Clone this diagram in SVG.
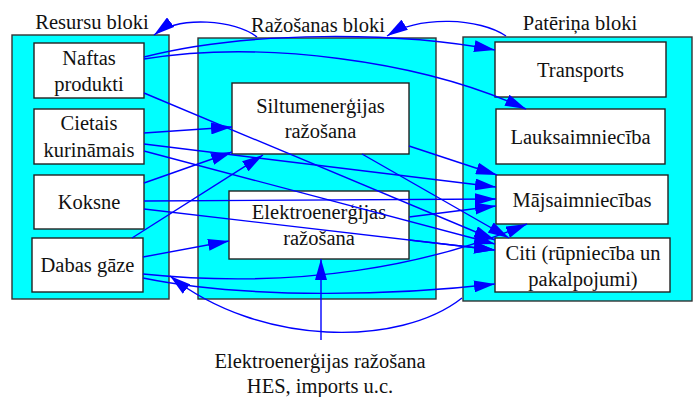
<svg xmlns="http://www.w3.org/2000/svg" width="698" height="397" viewBox="0 0 698 397">
  <style>
    .cluster { fill: #00ffff; stroke: #333333; stroke-width: 1.4; }
    .node { fill: #ffffff; stroke: #222222; stroke-width: 1.4; }
    text { font-family: "Liberation Serif", "Times New Roman", serif; font-size: 20.5px; fill: #111111; text-anchor: middle; }
    .edge { fill: none; stroke: #0000ff; stroke-width: 1.4; marker-end: url(#arrow); }
  </style>
  <defs>
    <marker id="arrow" markerUnits="userSpaceOnUse" markerWidth="21" markerHeight="12" refX="21" refY="6" orient="auto">
      <path d="M0,0 L21,6 L0,12 Z" fill="#0000ff"/>
    </marker>
  </defs>

  <!-- clusters -->
  <g id="cluster_resursi">
    <rect class="cluster" x="12" y="35" width="157" height="264"/>
    <text x="92" y="29">Resursu bloki</text>
  </g>
  <g id="cluster_razosana">
    <rect class="cluster" x="198" y="38" width="238" height="261"/>
    <text x="318" y="32">Ražošanas bloki</text>
  </g>
  <g id="cluster_paterins">
    <rect class="cluster" x="463" y="37" width="229" height="264"/>
    <text x="580" y="30">Patēriņa bloki</text>
  </g>

  <!-- resource nodes -->
  <g id="naftas">
    <rect class="node" x="34" y="43" width="110" height="55"/>
    <text x="89" y="65">Naftas</text>
    <text x="89" y="91">produkti</text>
  </g>
  <g id="cietais">
    <rect class="node" x="34" y="109" width="110" height="55"/>
    <text x="89" y="130">Cietais</text>
    <text x="89" y="157">kurināmais</text>
  </g>
  <g id="koksne">
    <rect class="node" x="34" y="175" width="110" height="54"/>
    <text x="89" y="209">Koksne</text>
  </g>
  <g id="gaze">
    <rect class="node" x="32" y="238" width="111" height="54"/>
    <text x="87.5" y="272">Dabas gāze</text>
  </g>

  <!-- production nodes -->
  <g id="siltums">
    <rect class="node" x="232" y="83" width="177" height="71"/>
    <text x="320.5" y="113">Siltumenerģijas</text>
    <text x="320.5" y="138">ražošana</text>
  </g>
  <g id="elektro">
    <rect class="node" x="229" y="191" width="180" height="68"/>
    <text x="319" y="219">Elektroenerģijas</text>
    <text x="319" y="245">ražošana</text>
  </g>

  <!-- consumer nodes -->
  <g id="transports">
    <rect class="node" x="495" y="42" width="171" height="55"/>
    <text x="580.5" y="77">Transports</text>
  </g>
  <g id="lauksaimnieciba">
    <rect class="node" x="496" y="109" width="169" height="55"/>
    <text x="580.5" y="143.5">Lauksaimniecība</text>
  </g>
  <g id="majsaimniecibas">
    <rect class="node" x="496" y="175" width="172" height="49"/>
    <text x="582" y="206.5">Mājsaimniecības</text>
  </g>
  <g id="citi">
    <rect class="node" x="495" y="238" width="175" height="54"/>
    <text x="583" y="259.5">Citi (rūpniecība un</text>
    <text x="583" y="286">pakalpojumi)</text>
  </g>

  <!-- external source label -->
  <g id="imports">
    <text x="320" y="368">Elektroenerģijas ražošana</text>
    <text x="320" y="393">HES, imports u.c.</text>
  </g>

  <!-- connectors -->
  <g id="edges">
    <!-- cluster feedback -->
    <path class="edge" d="M506,36 C480,18 420,15 387,36"/>
    <path class="edge" d="M257,37 C235,20 180,15 154,35"/>
    <path class="edge" d="M462,298 C400,347 260,347 170,276"/>

    <!-- oil products -->
    <path class="edge" d="M144,57 C250,30 400,32 495,50"/>
    <path class="edge" d="M144,59 C260,40 420,60 526,109"/>
    <path class="edge" d="M144,93 L495,240"/>

    <!-- solid fuel -->
    <path class="edge" d="M144,133 L232,127"/>
    <path class="edge" d="M144,144 L496,187"/>
    <path class="edge" d="M144,151 L495,244"/>

    <!-- wood -->
    <path class="edge" d="M144,183 L232,152"/>
    <path class="edge" d="M144,201 L496,199"/>
    <path class="edge" d="M144,209 L495,250"/>

    <!-- natural gas -->
    <path class="edge" d="M132,238 L263,155"/>
    <path class="edge" d="M143,257 L229,241"/>
    <path class="edge" d="M143,274 C300,290 430,265 527,224"/>
    <path class="edge" d="M143,278 C250,300 400,295 495,284"/>

    <!-- heat production -->
    <path class="edge" d="M409,146 L497,175"/>
    <path class="edge" d="M362,154 L509,238"/>

    <!-- electricity production -->
    <path class="edge" d="M409,217 L496,206"/>
    <path class="edge" d="M409,240 L495,250"/>

    <!-- external supply -->
    <path class="edge" d="M321,340 L321,259"/>
  </g>
</svg>
